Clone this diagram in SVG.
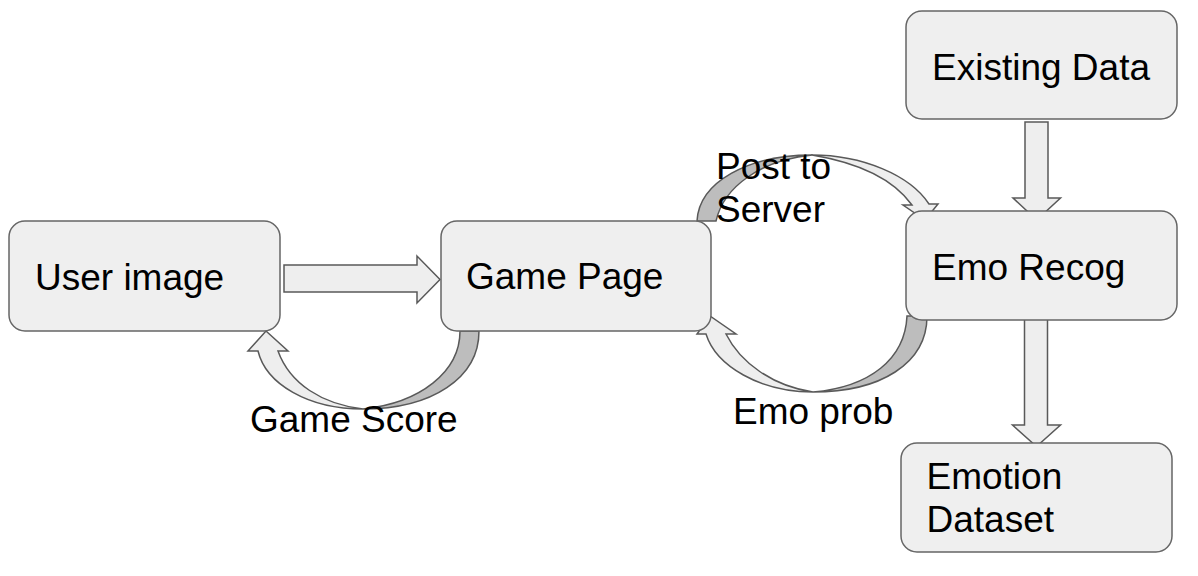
<svg xmlns="http://www.w3.org/2000/svg" width="1198" height="576" viewBox="0 0 1198 576">
<style>
.node{fill:#efefef;stroke:#666666;stroke-width:1.5}
.t{font-family:"Liberation Sans",Arial,sans-serif;font-size:37px;fill:#000}
.ba{fill:#eeeeee;stroke:#595959;stroke-width:1.5;stroke-linejoin:miter}
.dk{fill:#bdbdbd;stroke:#595959;stroke-width:1.5}
.lt{fill:#eeeeee;stroke:#595959;stroke-width:1.5}
</style>
<rect width="1198" height="576" fill="#ffffff"/>
<g id="connectors">
  <path class="ba" d="M284,265 L417,265 L417,256 L440,279.5 L417,303 L417,292 L284,292 Z"/>
  <path class="ba" d="M1025,122 L1048,122 L1048,198 L1060.5,198 L1036.7,220 L1013,198 L1025,198 Z"/>
  <path class="ba" d="M1024.5,314 L1047.5,314 L1047.5,425 L1060.5,425 L1036.5,446.5 L1012.5,425 L1024.5,425 Z"/>
  <g id="arrow-game-score">
    <path class="dk" d="M460,331 L479,331 C479,378 432,409 363,409 C420,403 460,372 460,331 Z"/>
    <path class="lt" d="M363,409 C308,409 266,384 258,351 L248,351 L266,331 L288,351 L278,351 C290,384 322,404 363,409 Z"/>
  </g>
  <g id="arrow-post">
    <path class="dk" d="M697,221 C699,182 748,155 812,155 C762,160 724,186 716,221 Z"/>
    <path class="lt" d="M812,155 C862,155 910,175 929,204 L938,204 L925,220 L903,205 L912,205 C894,180 860,163 812,155 Z"/>
  </g>
  <g id="arrow-emo-prob">
    <path class="dk" d="M907,316 L927,316 C927,364 880,392 813,392 C870,387 905,359 907,316 Z"/>
    <path class="lt" d="M813,392 C760,392 716,366 706,334 L697,334 L710,316 L736,334 L726,334 C740,362 772,386 813,392 Z"/>
  </g>
</g>
<g id="node-user-image">
  <rect class="node" x="9" y="221" width="271" height="110" rx="16"/>
  <text class="t" x="35" y="290">User image</text>
</g>
<g id="node-game-page">
  <rect class="node" x="441" y="221" width="270" height="110" rx="16"/>
  <text class="t" x="466" y="289">Game Page</text>
</g>
<g id="node-existing-data">
  <rect class="node" x="906" y="11" width="271" height="108" rx="16"/>
  <text class="t" x="932" y="80">Existing Data</text>
</g>
<g id="node-emo-recog">
  <rect class="node" x="906" y="211" width="271" height="109" rx="16"/>
  <text class="t" x="932" y="280">Emo Recog</text>
</g>
<g id="node-emotion-dataset">
  <rect class="node" x="901" y="443" width="271" height="109" rx="16"/>
  <text class="t" x="926.5" y="488.5">Emotion</text>
  <text class="t" x="926.5" y="532">Dataset</text>
</g>
<g id="labels">
  <text class="t" x="250" y="432">Game Score</text>
  <text class="t" x="716" y="178.5">Post to</text>
  <text class="t" x="716" y="222">Server</text>
  <text class="t" x="733" y="423.5">Emo prob</text>
</g>
</svg>
